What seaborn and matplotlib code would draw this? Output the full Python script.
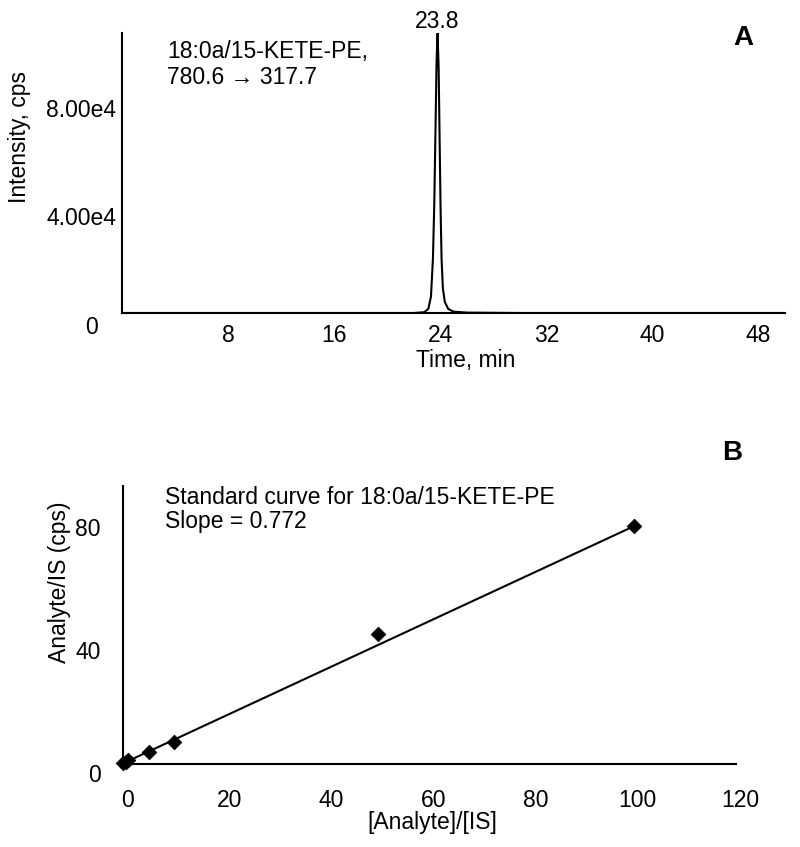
import numpy as np
import pandas as pd
import seaborn as sns
import matplotlib.pyplot as plt
import matplotlib.transforms as mtransforms

# panel A: extracted ion chromatogram
time_min = [0.1, 5, 10, 15, 20, 22.0, 22.8, 23.1, 23.3, 23.45, 23.55, 23.65, 23.72, 23.8,
            23.88, 23.95, 24.02, 24.1, 24.2, 24.35, 24.6, 25.0, 26.0, 30, 35, 40, 45, 49.9]
intensity = [0, 0, 0, 0, 0, 0, 300, 1500, 6000, 20000, 40000, 70000, 92000, 103000,
             90000, 65000, 40000, 20000, 9000, 4000, 1500, 500, 150, 0, 0, 0, 0, 0]
peak_label = "23.8"

# panel B: standard curve
ratio = [0, 0.5, 1, 5, 10, 50, 100]
response = [0.2, 0.8, 1.2, 3.8, 7.2, 42.3, 77.4]
slope = 0.772
intercept = 0.2

sns.set_style("white")
plt.rcParams['font.family'] = ['Liberation Sans', 'DejaVu Sans']
plt.rcParams['font.size'] = 16.5
for k in ('text.color', 'axes.labelcolor', 'xtick.color', 'ytick.color'):
    plt.rcParams[k] = 'black'

FS = 16.5
fig = plt.figure(figsize=(8, 8.47), dpi=100)
W, H = 800, 847


def px_axes(l, t, r, b):
    return fig.add_axes([l / W, 1 - b / H, (r - l) / W, (b - t) / H])


def shift(label, dx_px, dy_px):
    off = mtransforms.ScaledTranslation(dx_px / 100, dy_px / 100, fig.dpi_scale_trans)
    label.set_transform(label.get_transform() + off)


# ---------- A ----------
axA = px_axes(122, 33, 785, 313)
chrom = pd.DataFrame({"t": time_min, "i": intensity})
sns.lineplot(data=chrom, x="t", y="i", ax=axA, color="black", linewidth=1.5, estimator=None)
axA.set_xlim(0, 50)
axA.set_ylim(0, 1.03e5)
axA.set_xticks([8, 16, 24, 32, 40, 48])
axA.set_yticks([0, 4e4, 8e4])
axA.set_yticklabels(["0", "4.00e4", "8.00e4"])
axA.tick_params(length=0, labelsize=FS)
axA.tick_params(axis='y', pad=4)
axA.tick_params(axis='x', pad=8)
for lab in axA.get_yticklabels():
    shift(lab, 0, -12)
shift(axA.get_yticklabels()[0], -19, 0)
axA.set_xlabel("Time, min", fontsize=FS)
axA.set_ylabel("Intensity, cps", fontsize=FS)
axA.xaxis.set_label_coords(0.519, -0.13)
axA.yaxis.set_label_coords(-0.138, 0.63)
ipk = int(np.argmax(intensity))
axA.text(time_min[ipk], intensity[ipk], peak_label, ha='center', va='bottom', fontsize=FS)
axA.text(0.068, 0.975, "18:0a/15-KETE-PE,\n780.6 \u2192 317.7", transform=axA.transAxes,
         ha='left', va='top', fontsize=FS, linespacing=1.15)

# ---------- B ----------
axB = px_axes(123, 486, 736, 764)
sns.scatterplot(x=ratio, y=response, ax=axB, marker='D', s=55, color='black',
                edgecolor='black', clip_on=False, zorder=3)
fit_x = [ratio[0], ratio[-1]]
fit_y = [slope * v + intercept for v in fit_x]
sns.lineplot(x=fit_x, y=fit_y, ax=axB, color='black', linewidth=1.5)
axB.set_xlim(0, 120)
axB.set_ylim(0, 90.5)
axB.set_xticks([0, 20, 40, 60, 80, 100, 120])
axB.set_yticks([0, 40, 80])
axB.tick_params(length=0, labelsize=FS)
axB.tick_params(axis='y', pad=16)
axB.tick_params(axis='x', pad=18)
for lab in axB.get_yticklabels():
    shift(lab, 0, -9)
for lab in axB.get_xticklabels():
    shift(lab, 4, 0)
axB.set_xlabel("[Analyte]/[IS]", fontsize=FS)
axB.set_ylabel("Analyte/IS (cps)", fontsize=FS)
axB.xaxis.set_label_coords(0.504, -0.17)
axB.yaxis.set_label_coords(-0.085, 0.655)
axB.text(0.0685, 1.0, "Standard curve for 18:0a/15-KETE-PE\nSlope = 0.772",
         transform=axB.transAxes, ha='left', va='top', fontsize=FS, linespacing=1.05)

for ax in (axA, axB):
    sns.despine(ax=ax)
    for s in ("left", "bottom"):
        ax.spines[s].set_color("black")
        ax.spines[s].set_linewidth(1.5)

fig.text(743 / W, 1 - 38 / H, "A", ha='center', va='center', fontsize=20, weight='bold')
fig.text(732 / W, 1 - 453 / H, "B", ha='center', va='center', fontsize=20, weight='bold')

fig.savefig("out.png", dpi=100)
